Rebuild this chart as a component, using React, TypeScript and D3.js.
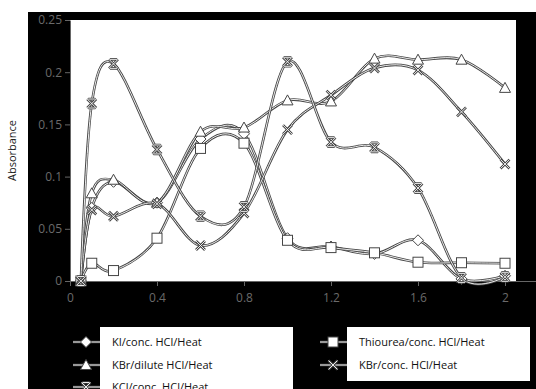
import React, { useEffect, useRef } from "react";
import * as d3 from "d3";

const concentrations = [0.05, 0.1, 0.2, 0.4, 0.6, 0.8, 1.0, 1.2, 1.4, 1.6, 1.8, 2.0];

const kiConcHcl = [0.0, 0.07, 0.095, 0.075, 0.136, 0.141, 0.041, 0.033, 0.026, 0.039, 0.002, 0.005];
const thioureaConcHcl = [0.0, 0.017, 0.01, 0.041, 0.127, 0.132, 0.039, 0.032, 0.027, 0.018, 0.0175, 0.017];
const kbrDiluteHcl = [0.0, 0.084, 0.097, 0.075, 0.143, 0.147, 0.173, 0.172, 0.213, 0.212, 0.212, 0.185];
const kbrConcHcl = [0.0, 0.068, 0.062, 0.074, 0.034, 0.065, 0.145, 0.178, 0.204, 0.202, 0.162, 0.112];
const kclConcHcl = [0.0, 0.17, 0.208, 0.126, 0.062, 0.071, 0.21, 0.133, 0.128, 0.089, 0.003, 0.004];

const seriesList = [
  { name: "KI/conc. HCl/Heat", values: kiConcHcl, marker: "diamond" },
  { name: "Thiourea/conc. HCl/Heat", values: thioureaConcHcl, marker: "square" },
  { name: "KBr/dilute HCl/Heat", values: kbrDiluteHcl, marker: "triangle" },
  { name: "KBr/conc. HCl/Heat", values: kbrConcHcl, marker: "x" },
  { name: "KCl/conc. HCl/Heat", values: kclConcHcl, marker: "star" },
];

const xTicks = [0, 0.4, 0.8, 1.2, 1.6, 2];
const yTicks = [0, 0.05, 0.1, 0.15, 0.2, 0.25];

const ink = "#454545";

const drawMarker = (g, type, cx, cy) => {
  const m = g.append("g").attr("transform", `translate(${cx},${cy})`);
  if (type === "square") {
    m.append("rect").attr("x", -5).attr("y", -5).attr("width", 10).attr("height", 10)
      .attr("fill", "white").attr("stroke", ink);
  } else if (type === "diamond") {
    m.append("path").attr("d", "M0,-5.5L5.5,0L0,5.5L-5.5,0Z").attr("fill", "white").attr("stroke", ink);
  } else if (type === "triangle") {
    m.append("path").attr("d", "M0,-5.5L5.5,4.5L-5.5,4.5Z").attr("fill", "white").attr("stroke", ink);
  } else if (type === "x") {
    m.append("path").attr("d", "M-4.5,-4.5L4.5,4.5M-4.5,4.5L4.5,-4.5").attr("stroke", ink).attr("stroke-width", 2.6);
    m.append("path").attr("d", "M-4.5,-4.5L4.5,4.5M-4.5,4.5L4.5,-4.5").attr("stroke", "white").attr("stroke-width", 0.9);
  } else {
    const d = "M-4.5,-4.5L4.5,4.5M-4.5,4.5L4.5,-4.5M-3.5,-4.5L3.5,-4.5M-3.5,4.5L3.5,4.5";
    m.append("path").attr("d", d).attr("stroke", ink).attr("stroke-width", 2.6);
    m.append("path").attr("d", d).attr("stroke", "white").attr("stroke-width", 0.9);
  }
};

const AbsorbanceChart = ({ width = 536, height = 389 }) => {
  const ref = useRef(null);

  useEffect(() => {
    d3.select(ref.current).selectAll("svg").remove();
    const svg = d3
      .select(ref.current)
      .append("svg")
      .attr("width", width)
      .attr("height", height)
      .style("position", "absolute")
      .style("left", "0px")
      .style("top", "0px")
      .style("font-family", "'Open Sans', sans-serif");

    const xScale = d3.scaleLinear().domain([0, 2]).range([70, 505]);
    const yScale = d3.scaleLinear().domain([0, 0.25]).range([281, 20]);

    svg.append("rect").attr("width", width).attr("height", height).attr("fill", "white");
    svg.append("rect").attr("x", 28).attr("y", 12).attr("width", width - 28).attr("height", height - 12).attr("fill", "black");
    svg.append("rect").attr("x", 70).attr("y", 20).attr("width", 446).attr("height", 261).attr("fill", "white");

    // y axis title
    svg.append("text")
      .attr("transform", `translate(16,${yScale(0.125)}) rotate(-90)`)
      .attr("text-anchor", "middle")
      .attr("font-size", 11)
      .attr("fill", "#222")
      .text("Absorbance");

    // Axes
    const xAxis = svg.append("g")
      .attr("transform", `translate(0,${yScale(0)})`)
      .call(d3.axisBottom(xScale).tickValues(xTicks).tickSize(5).tickSizeOuter(0).tickFormat(d3.format("~g")));
    xAxis.select(".domain").attr("d", `M70,0.5H${width}`);
    const yAxis = svg.append("g")
      .attr("transform", `translate(${xScale(0)},0)`)
      .call(d3.axisLeft(yScale).tickValues(yTicks).tickSize(5).tickSizeOuter(0).tickFormat(d3.format("~g")));
    [xAxis, yAxis].forEach((a) => {
      a.selectAll("path,line").attr("stroke", "#666");
      a.selectAll("text").attr("fill", "#6a6a6a").attr("font-size", 12).attr("font-family", "'Open Sans', sans-serif");
    });
    xAxis.selectAll("text").attr("dy", "1.1em");

    const line = d3.line()
      .x((d) => xScale(d[0]))
      .y((d) => yScale(d[1]))
      .curve(d3.curveCatmullRom.alpha(0));

    const plot = svg.append("g");
    seriesList.forEach((s) => {
      const pts = concentrations.map((c, i) => [c, s.values[i]]);
      plot.append("path").attr("d", line(pts)).attr("fill", "none").attr("stroke", ink).attr("stroke-width", 2.6);
      plot.append("path").attr("d", line(pts)).attr("fill", "none").attr("stroke", "white").attr("stroke-width", 0.9);
    });
    seriesList.forEach((s) => {
      concentrations.forEach((c, i) => drawMarker(plot, s.marker, xScale(c), yScale(s.values[i])));
    });

    // Legend
    const legendBoxes = [
      { x: 100, y: 327, w: 193, h: 70 },
      { x: 347, y: 327, w: 183, h: 54 },
    ];
    legendBoxes.forEach((b) => {
      svg.append("rect").attr("x", b.x).attr("y", b.y).attr("width", b.w).attr("height", b.h).attr("fill", "white");
    });
    const legendPos = [
      { x: 73, y: 342 },
      { x: 320, y: 342 },
      { x: 73, y: 365 },
      { x: 320, y: 365 },
      { x: 73, y: 387 },
    ];
    seriesList.forEach((s, i) => {
      const p = legendPos[i];
      const lg = svg.append("g");
      lg.append("path").attr("d", `M${p.x},${p.y}H${p.x + 27}`).attr("stroke", ink).attr("stroke-width", 2.6);
      lg.append("path").attr("d", `M${p.x},${p.y}H${p.x + 27}`).attr("stroke", "white").attr("stroke-width", 0.9);
      drawMarker(lg, s.marker, p.x + 13, p.y);
      lg.append("text")
        .attr("x", p.x + 39)
        .attr("y", p.y)
        .attr("dy", "0.35em")
        .attr("font-size", 11)
        .attr("fill", "#111")
        .text(s.name);
    });
  }, [width, height]);

  return <div ref={ref}></div>;
};

export default function App() {
  return <AbsorbanceChart />;
}
